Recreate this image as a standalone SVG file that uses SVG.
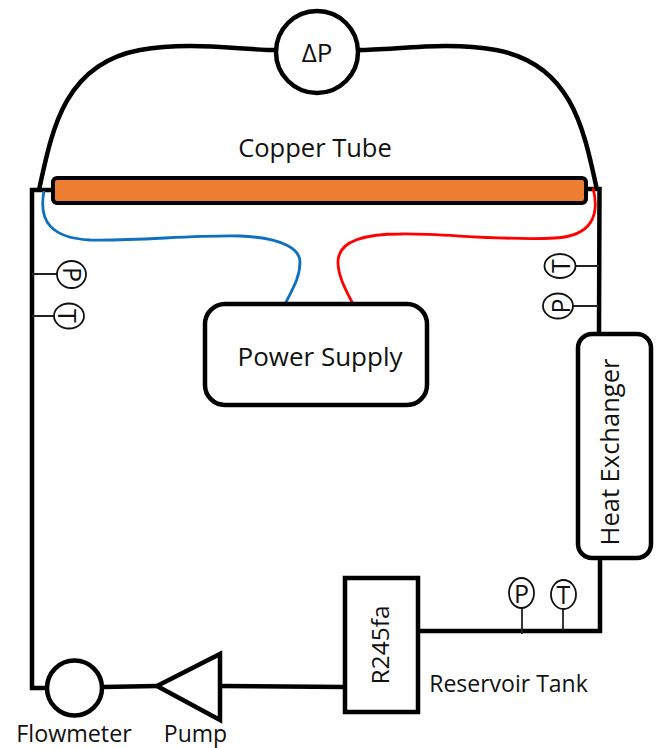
<svg xmlns="http://www.w3.org/2000/svg" width="657" height="748" viewBox="0 0 657 748">
<style>
text{font-family:"Open Sans","Noto Sans","Liberation Sans",sans-serif;fill:#111;font-size:23px;text-anchor:middle}
.b{fill:#fff;stroke:#000;stroke-width:4.5}
.p{fill:none;stroke:#000;stroke-width:4.500;stroke-linejoin:miter}
.s{fill:none;stroke:#222;stroke-width:1.8}
.g{fill:#fff;stroke:#111;stroke-width:1.8}
.i{font-size:25px}
</style>
<rect width="657" height="748" fill="#fff"/>
<g id="connectors">
<path class="p" d="M39 190C52 130 64 64 140 50C190 41 240 50 277 50"/>
<path class="p" d="M597 190C584 130 572 64 496 50C446 41 396 50 358 50"/>
<path class="p" d="M53 190H32V688H46"/>
<path class="p" d="M586 189H599.500L599 334"/>
<path class="p" d="M600 558V631H418"/>
<path class="p" d="M103 687L157 686"/>
<path class="p" d="M220 686L345 687"/>
<path fill="none" stroke="#0f70c0" stroke-width="2.800" d="M44 191C38 222 52 238 90 240C140 241 190 235 240 236C285 238 300 250 300 262C300 278 292 290 285 304"/>
<path fill="none" stroke="#f00" stroke-width="2.800" d="M593 188C600 215 592 236 555 238C500 241 440 233 400 234C355 234 338 245 338 262C338 277 347 292 353 304"/>
<path class="s" d="M32 274H57M32 316H54M599 266H575M599 306H573M522 608V634M563 609V631"/>
</g>
<g id="delta-p"><circle class="b" cx="317" cy="52" r="41"/><text x="317" y="62" style="font-size:26px">ΔP</text></g>
<g id="copper-tube"><rect x="53" y="178" width="533" height="25" rx="4" fill="#ed7d31" stroke="#000" stroke-width="4"/><text x="315" y="157" style="font-size:25.500px">Copper Tube</text></g>
<g id="power-supply"><rect class="b" x="205" y="304" width="222" height="101" rx="20"/><text x="320" y="366" style="font-size:26px">Power Supply</text></g>
<g id="heat-exchanger"><rect class="b" x="578" y="334" width="73" height="224" rx="14"/><text transform="translate(619 452) rotate(-90)" style="font-size:25.500px">Heat Exchanger</text></g>
<g id="reservoir-tank"><rect class="b" x="345" y="578" width="73" height="134"/><text transform="translate(389 645) rotate(-90)" style="font-size:24.500px">R245fa</text><text x="508.500" y="692">Reservoir Tank</text></g>
<g id="flowmeter"><circle class="b" cx="74.500" cy="688" r="27.500"/><text x="74" y="742" style="font-size:23.300px">Flowmeter</text></g>
<g id="pump"><path class="b" d="M157 686L220 654V720Z"/><text x="195.500" y="742">Pump</text></g>
<g id="p-left"><ellipse class="g" cx="71.500" cy="274.500" rx="14.500" ry="13.500"/><text class="i" transform="translate(63 274.500) rotate(90)">P</text></g>
<g id="t-left"><ellipse class="g" cx="69" cy="316" rx="15" ry="12.500"/><text class="i" transform="translate(58 316) rotate(90)">T</text></g>
<g id="t-right"><ellipse class="g" cx="560" cy="266" rx="15.500" ry="12"/><text class="i" transform="translate(570 266) rotate(-90)">T</text></g>
<g id="p-right"><ellipse class="g" cx="558" cy="306" rx="15" ry="12.500"/><text class="i" transform="translate(570 306) rotate(-90)">P</text></g>
<g id="p-bottom"><ellipse class="g" cx="521.500" cy="593" rx="12.500" ry="15"/><text class="i" x="521.500" y="603">P</text></g>
<g id="t-bottom"><ellipse class="g" cx="563.500" cy="594.500" rx="12.500" ry="14.500"/><text class="i" x="563.500" y="604">T</text></g>
</svg>
